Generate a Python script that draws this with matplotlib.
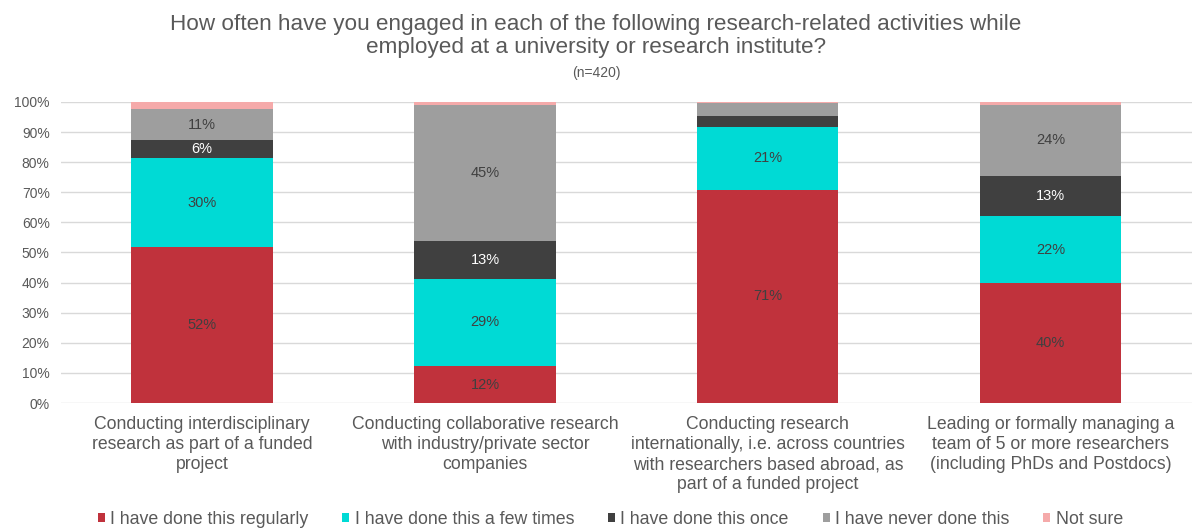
import matplotlib.pyplot as plt
import numpy as np

plt.rcParams['font.family'] = ['Liberation Sans', 'DejaVu Sans']

categories = [
    "Conducting interdisciplinary\nresearch as part of a funded\nproject",
    "Conducting collaborative research\nwith industry/private sector\ncompanies",
    "Conducting research\ninternationally, i.e. across countries\nwith researchers based abroad, as\npart of a funded project",
    "Leading or formally managing a\nteam of 5 or more researchers\n(including PhDs and Postdocs)",
]
series_names = ["I have done this regularly", "I have done this a few times",
                "I have done this once", "I have never done this", "Not sure"]
regularly = [51.8, 12.3, 70.8, 39.8]
few_times = [29.6, 28.9, 20.9, 22.2]
once = [5.8, 12.6, 3.7, 13.4]
never = [10.6, 45.3, 4.2, 23.7]
not_sure = [2.2, 0.9, 0.4, 0.9]

colors = ["#C0323C", "#00DAD5", "#404040", "#9E9E9E", "#F5AAAA"]
label_colors = ["#404040", "#404040", "#FFFFFF", "#404040", "#404040"]
text_grey = "#595959"

fig = plt.figure(figsize=(11.92, 5.31), dpi=100)
ax = fig.add_axes([0.051, 0.241, 0.949, 0.567])

x = np.arange(len(categories))
bottom = np.zeros(len(categories))
for name, vals, col, lcol in zip(series_names, [regularly, few_times, once, never, not_sure],
                                 colors, label_colors):
    vals = np.array(vals) / 100.0
    ax.bar(x, vals, 0.5, bottom=bottom, color=col, label=name, zorder=3)
    for xi, v, b in zip(x, vals, bottom):
        if v >= 0.05:
            ax.text(xi, b + v / 2, f"{v*100:.0f}%", ha="center", va="center",
                    fontsize=10.5, color=lcol, zorder=4)
    bottom += vals

ax.set_xlim(-0.5, len(categories) - 0.5)
ax.set_ylim(0, 1)
ax.set_yticks(np.arange(0, 1.01, 0.1))
ax.set_yticklabels([f"{i}%" for i in range(0, 101, 10)])
ax.set_xticks(x)
ax.set_xticklabels(categories, fontsize=12.7, color=text_grey, linespacing=1.25, va="top")
ax.tick_params(axis="both", length=0, colors=text_grey)
ax.tick_params(axis="y", labelsize=10, pad=8)
ax.tick_params(axis="x", pad=9)
ax.grid(axis="y", color="#D9D9D9", linewidth=1, zorder=0)
for s in ax.spines.values():
    s.set_visible(False)

fig.text(0.5, 0.954, "How often have you engaged in each of the following research-related activities while",
         ha="center", va="center", fontsize=16.2, color=text_grey)
fig.text(0.5, 0.911, "employed at a university or research institute?",
         ha="center", va="center", fontsize=16.2, color=text_grey)
fig.text(0.5, 0.862, "(n=420)", ha="center", va="center", fontsize=10, color=text_grey)

leg = fig.legend(loc="center", bbox_to_anchor=(0.512, 0.022), ncol=5, frameon=False,
                 fontsize=12.8, handlelength=0.4, handleheight=0.4, handletextpad=0.3,
                 columnspacing=1.9, labelcolor=text_grey)

fig.savefig("out.png", dpi=100)
